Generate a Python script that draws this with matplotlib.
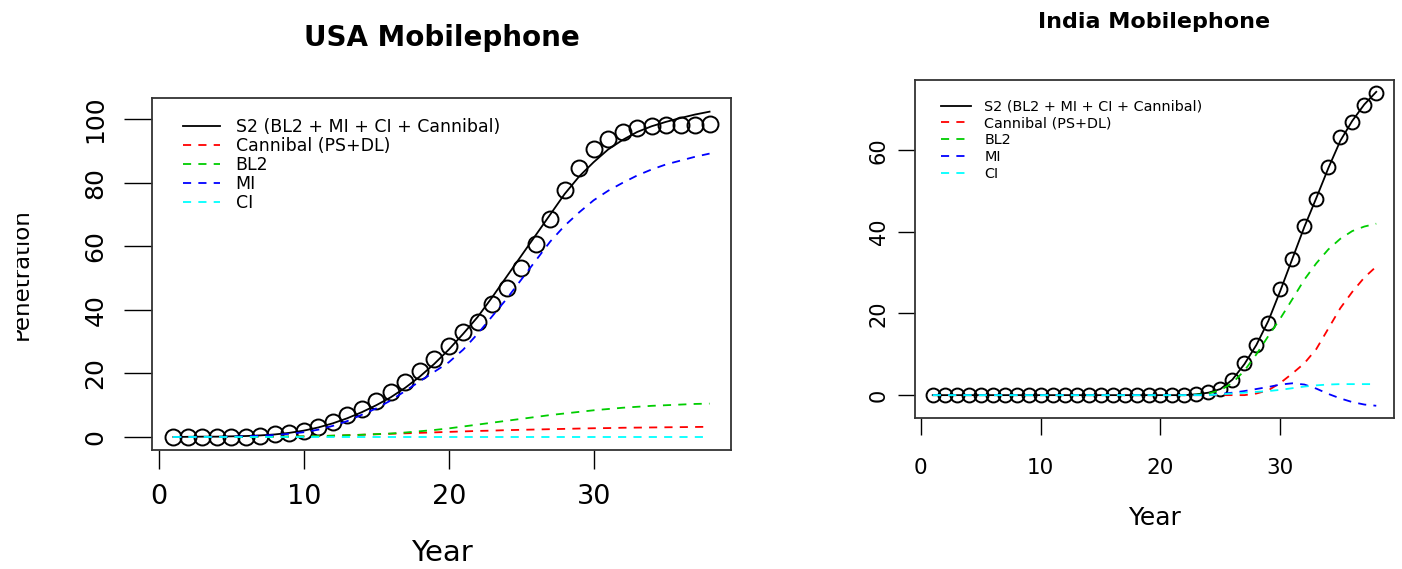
import numpy as np
import matplotlib
matplotlib.use('Agg')
import matplotlib.pyplot as plt
from matplotlib.patches import Rectangle

W, H = 1402, 569

years = np.arange(1, 39)

# USA mobilephone penetration
usa_obs = [0, 0, 0, 0, 0, 0, 0.3, 0.8, 1.4, 1.9, 3.2, 4.7, 6.8, 8.9, 11.3, 14.2, 17.4, 20.7, 24.6,
           28.6, 33.0, 36.3, 41.7, 47.0, 53.2, 60.8, 68.6, 77.6, 84.6, 90.6, 93.8, 95.9, 97.4,
           97.9, 98.1, 98.2, 98.3, 98.6]
usa_s2 = [0.0, 0.05, 0.1, 0.1, 0.2, 0.3, 0.5, 0.8, 1.3, 2.0, 3.0, 4.3, 5.9, 7.8, 10.0, 12.5, 15.5,
          19.0, 23.0, 27.5, 32.5, 37.8, 44.0, 50.5, 57.0, 63.5, 70.0, 76.5, 82.0, 86.5, 90.5,
          93.5, 96.0, 97.8, 99.2, 100.4, 101.5, 102.4]
usa_cann = [0, 0, 0, 0, 0, 0, 0.02, 0.05, 0.1, 0.15, 0.25, 0.4, 0.55, 0.7, 0.85, 1.0, 1.15, 1.3,
            1.45, 1.6, 1.75, 1.9, 2.0, 2.15, 2.25, 2.35, 2.45, 2.55, 2.65, 2.75, 2.8, 2.9, 2.95,
            3.0, 3.05, 3.1, 3.15, 3.2]
usa_bl2 = [0, 0, 0, 0, 0, 0, 0.05, 0.1, 0.15, 0.2, 0.3, 0.4, 0.55, 0.7, 0.9, 1.1, 1.4, 1.8, 2.2,
           2.7, 3.3, 3.9, 4.5, 5.1, 5.7, 6.3, 6.9, 7.4, 7.9, 8.4, 8.8, 9.2, 9.5, 9.8, 10.0, 10.2,
           10.4, 10.5]
usa_mi = [0, 0, 0, 0, 0.1, 0.2, 0.4, 0.6, 1.0, 1.5, 2.3, 3.5, 5.0, 7.0, 9.0, 11.5, 14.5, 17.5,
          20.5, 23.5, 27.5, 32.5, 38.0, 43.5, 49.5, 55.5, 61.5, 66.5, 70.7, 74.5, 77.5, 80.0,
          82.3, 84.2, 85.8, 87.0, 88.2, 89.2]
usa_ci = [0, 0, 0, 0, 0, 0, 0, 0, 0, 0, 0, 0, 0, 0, 0, 0, 0, 0, 0,
          0, 0, 0, 0, 0, 0, 0, 0, 0, 0, 0, 0, 0, 0, 0, 0, 0, 0, 0]

# India mobilephone penetration
ind_obs = [0, 0, 0, 0, 0, 0, 0, 0, 0, 0, 0, 0, 0, 0, 0, 0, 0, 0, 0, 0, 0, 0,
           0.3, 0.7, 1.4, 3.7, 7.8, 12.3, 17.7, 25.9, 33.3, 41.4, 48.0, 55.8, 63.2, 67.0,
           71.1, 74.1]
ind_s2 = [0, 0, 0, 0, 0, 0, 0, 0, 0, 0, 0, 0, 0, 0, 0, 0, 0, 0, 0, 0, 0, 0,
          0.2, 0.6, 1.5, 3.8, 7.6, 12.3, 18.2, 25.6, 33.4, 41.2, 48.3, 55.6, 62.3, 67.2,
          71.2, 74.3]
ind_cann = [0, 0, 0, 0, 0, 0, 0, 0, 0, 0, 0, 0, 0, 0, 0, 0, 0, 0, 0, 0, 0, 0,
            0, 0, 0, 0, 0, 0.4, 1.2, 3.0, 5.3, 7.8, 11.3, 16.3, 21.3, 25.3, 28.8, 31.5]
ind_bl2 = [0, 0, 0, 0, 0, 0, 0, 0, 0, 0, 0, 0, 0, 0, 0, 0, 0, 0, 0, 0, 0, 0,
           0.1, 0.4, 1.2, 3.0, 6.0, 10.0, 14.5, 18.8, 23.5, 28.3, 32.3, 35.7, 38.3, 40.2,
           41.3, 42.0]
ind_mi = [0, 0, 0, 0, 0, 0, 0, 0, 0, 0, 0, 0, 0, 0, 0, 0, 0, 0, 0, 0, 0, 0,
          0, 0, 0.3, 0.6, 1.0, 1.5, 2.0, 2.6, 2.9, 2.6, 1.6, 0.3, -0.8, -1.7, -2.3, -2.6]
ind_ci = [0, 0, 0, 0, 0, 0, 0, 0, 0, 0, 0, 0, 0, 0, 0, 0, 0, 0, 0, 0, 0, 0,
          0, 0, 0.2, 0.4, 0.6, 0.8, 1.0, 1.3, 1.7, 2.1, 2.4, 2.6, 2.7, 2.7, 2.7, 2.7]

labels = ['S2 (BL2 + MI + CI + Cannibal)', 'Cannibal (PS+DL)', 'BL2', 'MI', 'CI']
colors = ['black', '#FF0000', '#00CD00', '#0000FF', '#00FFFF']


def px_axes(fig, left, top, right, bottom):
    return fig.add_axes([left / W, 1 - bottom / H, (right - left) / W, (bottom - top) / H])


def draw_panel(ax, obs, s2, cann, bl2, mi, ci, ylim, yticks, ms, xfs, yfs, leg_fs, leg_sp,
               xtl, ytl, xpad, ypad):
    ax.plot(years, obs, 'o', mfc='none', mec='black', ms=ms, mew=1.4, zorder=2)
    ax.plot(years, s2, color=colors[0], lw=1.3, label=labels[0], zorder=3)
    series = [cann, bl2, mi, ci]
    for i, ser in enumerate(series):
        ax.plot(years, ser, color=colors[i + 1], lw=1.3, ls=(0, (4.5, 4)),
                label=labels[i + 1], zorder=4)
    ax.set_xlim(-0.48, 39.48)
    ax.set_ylim(*ylim)
    ax.set_xticks([0, 10, 20, 30])
    ax.set_yticks(yticks)
    ax.tick_params(axis='x', length=xtl, width=1, labelsize=xfs, pad=xpad)
    ax.tick_params(axis='y', length=ytl, width=1, labelsize=yfs, pad=ypad,
                   labelrotation=90)
    for lab in ax.get_yticklabels():
        lab.set_va('center')
    for sp in ax.spines.values():
        sp.set_linewidth(1.3)
        sp.set_color('#333333')
    leg = ax.legend(loc='upper left', bbox_to_anchor=(0.054, 0.942), frameon=False,
                    fontsize=leg_fs, borderpad=0, borderaxespad=0, labelspacing=leg_sp,
                    handlelength=2.1, handletextpad=0.92)
    return leg


fig = plt.figure(figsize=(W / 100, H / 100), dpi=100)
plt.rcParams['font.family'] = ['DejaVu Sans']

ax1 = px_axes(fig, 152, 98, 731, 450)
draw_panel(ax1, usa_obs, usa_s2, usa_cann, usa_bl2, usa_mi, usa_ci,
           (-4.1, 106.7), [0, 20, 40, 60, 80, 100], 11.5, 19.5, 18, 12.5, 0.05, 14, 20, 10.5, 12)

ax2 = px_axes(fig, 915, 80, 1394, 418)
draw_panel(ax2, ind_obs, ind_s2, ind_cann, ind_bl2, ind_mi, ind_ci,
           (-5.6, 77.2), [0, 20, 40, 60], 10, 15.5, 15, 10.4, 0.2, 12, 12, 16.5, 7)

fig.text(441.5 / W, 1 - 38 / H, 'USA Mobilephone', ha='center', va='center',
         fontsize=20, fontweight='bold')
fig.text(1154.5 / W, 1 - 22 / H, 'India Mobilephone', ha='center', va='center',
         fontsize=16, fontweight='bold')
fig.text(441.5 / W, 1 - 553 / H, 'Year', ha='center', va='center', fontsize=21)
fig.text(1154.5 / W, 1 - 518 / H, 'Year', ha='center', va='center', fontsize=18)

# y label partly cut off on the left, as in the source image
fig.text(28 / W, 1 - 274 / H, 'Penetration', rotation=90, rotation_mode='anchor',
         ha='center', va='baseline', fontsize=16.5, zorder=3)
fig.add_artist(Rectangle((0, 0), 17 / W, 1, transform=fig.transFigure,
                         facecolor='white', edgecolor='none', zorder=10))

fig.savefig('out.png', dpi=100)
